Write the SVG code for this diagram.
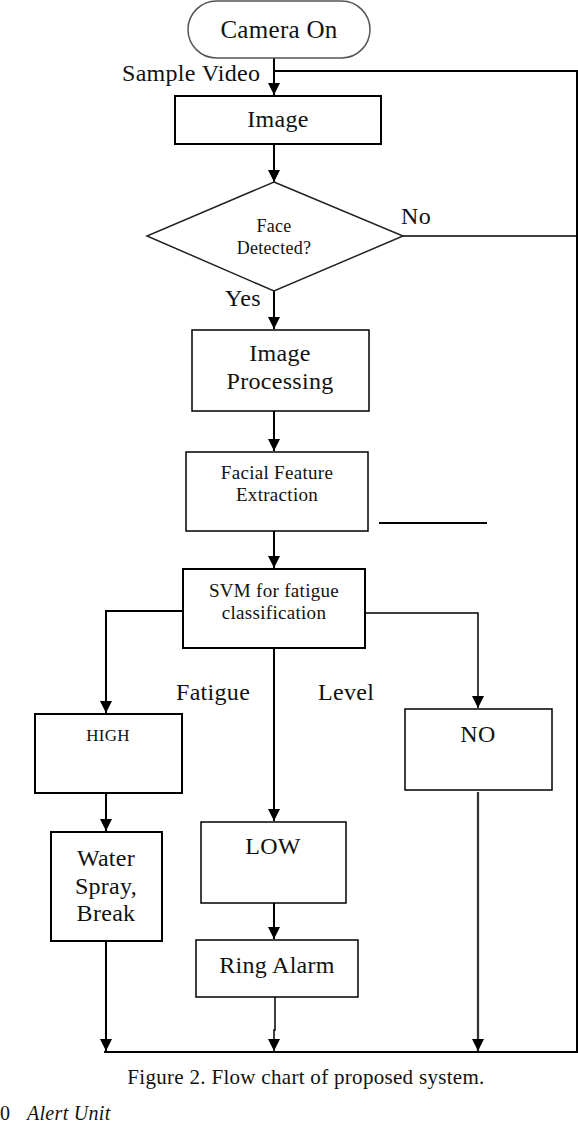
<svg xmlns="http://www.w3.org/2000/svg" width="578" height="1122" viewBox="0 0 578 1122">
<style>
text{fill:#111;text-anchor:middle;letter-spacing:0.3px}
.box{fill:#fff;stroke:#000;stroke-width:2}
.thin{fill:#fff;stroke:#000;stroke-width:1.5}
.ln{fill:none;stroke:#000;stroke-width:2}
.ln1{fill:none;stroke:#000;stroke-width:1.5}
.lbl{text-anchor:start}
</style>
<defs>
<marker id="av" viewBox="0 0 12 12" refX="12" refY="6" markerWidth="12" markerHeight="12" markerUnits="userSpaceOnUse" orient="auto">
<path d="M0,0 L12,6 L0,12 Z" fill="#000"/>
</marker>
</defs>
<rect width="578" height="1122" fill="#fff"/>
<g id="connectors">
<line class="ln" x1="274" y1="58" x2="274" y2="95" marker-end="url(#av)"/>
<polyline class="ln" points="274,71 577,71 577,1052 104,1052"/>
<line class="ln" x1="274" y1="144" x2="274" y2="182" marker-end="url(#av)"/>
<line class="ln1" x1="403" y1="236" x2="577" y2="236"/>
<line class="ln" x1="274" y1="291" x2="274" y2="329" marker-end="url(#av)"/>
<line class="ln" x1="274" y1="411" x2="274" y2="451" marker-end="url(#av)"/>
<line class="ln" x1="379" y1="523" x2="487" y2="523"/>
<line class="ln" x1="274" y1="531" x2="274" y2="568" marker-end="url(#av)"/>
<polyline class="ln" points="183,611 106,611 106,713" marker-end="url(#av)"/>
<polyline class="ln1" points="365,613 478,613 478,708" marker-end="url(#av)"/>
<line class="ln" x1="274" y1="648" x2="274" y2="821" marker-end="url(#av)"/>
<line class="ln" x1="106" y1="793" x2="106" y2="831" marker-end="url(#av)"/>
<line class="ln" x1="274" y1="903" x2="274" y2="939" marker-end="url(#av)"/>
<line class="ln" x1="106" y1="942" x2="106" y2="1051" marker-end="url(#av)"/>
<polyline class="ln1" points="275,997 275,1030 274,1030 274,1051" marker-end="url(#av)"/>
<line x1="478" y1="792" x2="478" y2="1051" stroke="#ccc" stroke-width="3"/>
<line class="ln1" x1="478" y1="792" x2="478" y2="1051" stroke-width="1" marker-end="url(#av)"/>
</g>
<g font-family="Liberation Serif, Times New Roman, DejaVu Serif, serif">
<g id="camera">
<rect x="188" y="1" width="182" height="57" rx="28.5" fill="#fff" stroke="#555" stroke-width="1.5"/>
<text x="279" y="38" font-size="25">Camera On</text>
</g>
<g id="lbl-sample"><text class="lbl" x="122" y="81" font-size="24">Sample Video</text></g>
<g id="image">
<rect class="box" x="175" y="96" width="206" height="48"/>
<text x="278" y="127" font-size="24">Image</text>
</g>
<g id="face">
<polygon points="274,182 403,236 274,291 147,236" fill="#fff" stroke="#222" stroke-width="1.5"/>
<text x="274" y="232" font-size="18">Face</text>
<text x="274" y="254" font-size="18">Detected?</text>
</g>
<g id="lbl-no"><text class="lbl" x="401" y="224" font-size="24">No</text></g>
<g id="lbl-yes"><text class="lbl" x="225" y="306" font-size="24">Yes</text></g>
<g id="processing">
<rect class="thin" x="192" y="330" width="177" height="81"/>
<text x="280" y="361" font-size="24">Image</text>
<text x="280" y="389" font-size="24">Processing</text>
</g>
<g id="extraction">
<rect class="thin" x="186" y="452" width="182" height="79"/>
<text x="277" y="479" font-size="19">Facial Feature</text>
<text x="277" y="501" font-size="19">Extraction</text>
</g>
<g id="svm">
<rect class="box" x="183" y="569" width="182" height="79"/>
<text x="274" y="597" font-size="19">SVM  for fatigue</text>
<text x="274" y="619" font-size="19">classification</text>
</g>
<g id="lbl-fatigue"><text class="lbl" x="176" y="700" font-size="24">Fatigue</text></g>
<g id="lbl-level"><text class="lbl" x="318" y="700" font-size="24">Level</text></g>
<g id="high">
<rect class="box" x="35" y="714" width="147" height="79"/>
<text x="108" y="741" font-size="17">HIGH</text>
</g>
<g id="water">
<rect class="box" x="51" y="832" width="111" height="109"/>
<text x="106" y="866" font-size="24">Water</text>
<text x="106" y="894" font-size="24">Spray,</text>
<text x="106" y="921" font-size="24">Break</text>
</g>
<g id="low">
<rect class="thin" x="201" y="822" width="145" height="81"/>
<text x="273" y="854" font-size="24">LOW</text>
</g>
<g id="ring">
<rect class="thin" x="196" y="940" width="162" height="57"/>
<text x="277" y="973" font-size="24">Ring Alarm</text>
</g>
<g id="no">
<rect class="thin" x="405" y="709" width="147" height="81"/>
<text x="478" y="742" font-size="24">NO</text>
</g>
<g id="caption">
<text x="306" y="1084" font-size="21">Figure 2. Flow chart of proposed system.</text>
<text class="lbl" x="0" y="1120" font-size="20">0</text>
<text class="lbl" x="27" y="1120" font-size="20" font-style="italic">Alert Unit</text>
</g>
</g>
</svg>
